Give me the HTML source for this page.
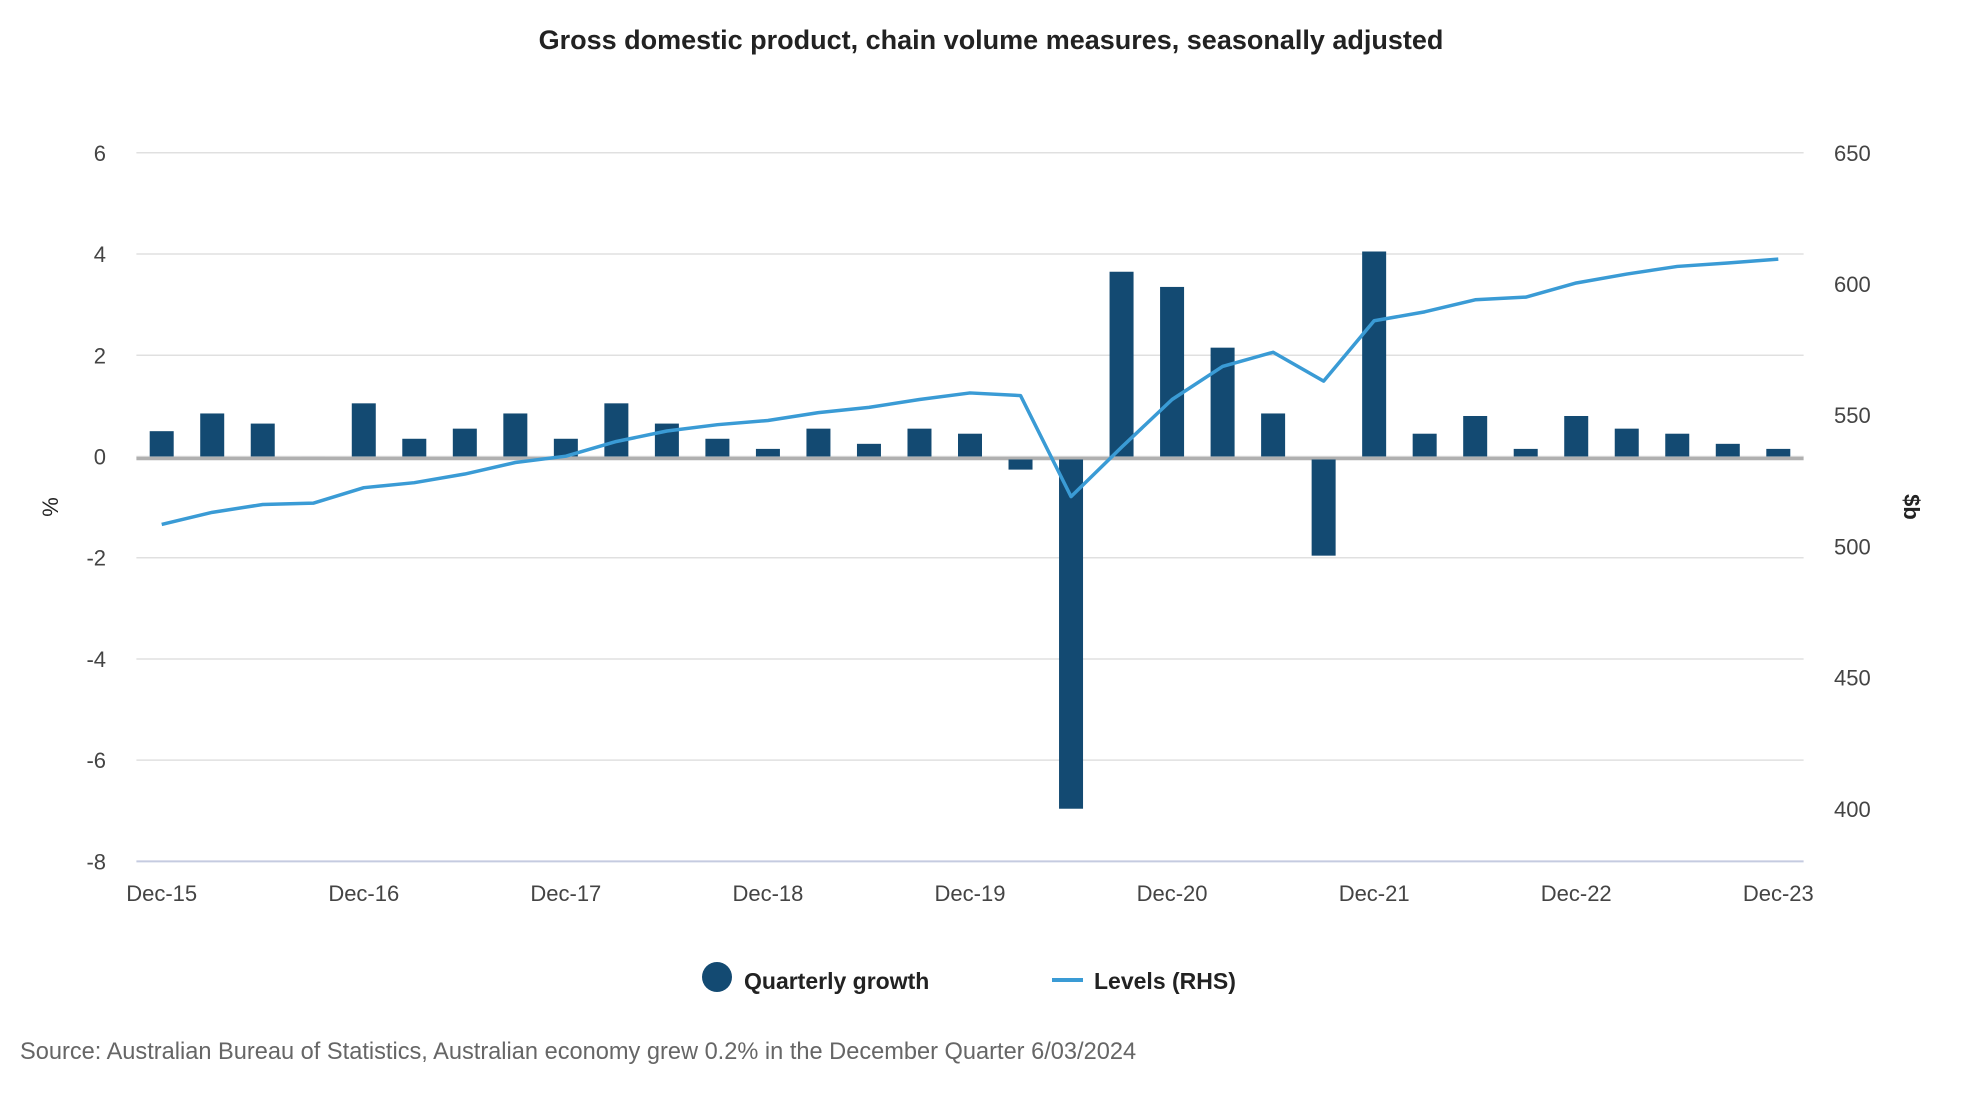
<!DOCTYPE html>
<html><head><meta charset="utf-8">
<style>
body{margin:0;background:#fff;}
svg{display:block;font-family:"Segoe UI","Liberation Sans",sans-serif;}
</style></head>
<body>
<svg id="chart" width="1980" height="1100" viewBox="0 0 1980 1100">
<text x="991" y="49" text-anchor="middle" font-size="27" font-weight="600" fill="#222">Gross domestic product, chain volume measures, seasonally adjusted</text>
<g id="grid"></g>
<g id="zero"></g>
<g id="bars"></g>
<g id="line"></g>
<g id="axes"></g>
<text transform="translate(58,507) rotate(-90)" text-anchor="middle" font-size="22" fill="#222">%</text>
<text transform="translate(1904,507) rotate(90)" text-anchor="middle" font-size="22" font-weight="600" fill="#222">$b</text>
<g>
<circle cx="717" cy="977" r="15" fill="#134a72"/>
<text x="744" y="989" font-size="23" font-weight="600" fill="#222">Quarterly growth</text>
<line x1="1052" y1="980" x2="1083" y2="980" stroke="#3a9bd5" stroke-width="4"/>
<text x="1094" y="989" font-size="23" font-weight="600" fill="#222">Levels (RHS)</text>
</g>
<text x="20" y="1059" font-size="23.6" fill="#666">Source: Australian Bureau of Statistics, Australian economy grew 0.2% in the December Quarter 6/03/2024</text>
</svg>
<script>
const categories=["Dec-15","Mar-16","Jun-16","Sep-16","Dec-16","Mar-17","Jun-17","Sep-17","Dec-17","Mar-18","Jun-18","Sep-18","Dec-18","Mar-19","Jun-19","Sep-19","Dec-19","Mar-20","Jun-20","Sep-20","Dec-20","Mar-21","Jun-21","Sep-21","Dec-21","Mar-22","Jun-22","Sep-22","Dec-22","Mar-23","Jun-23","Sep-23","Dec-23"];
const growth=[0.5,0.85,0.65,0,1.05,0.35,0.55,0.85,0.35,1.05,0.65,0.35,0.15,0.55,0.25,0.55,0.45,-0.2,-6.9,3.65,3.35,2.15,0.85,-1.9,4.05,0.45,0.8,0.15,0.8,0.55,0.45,0.25,0.15];
const levels=[508.4,513,516,516.5,522.4,524.3,527.6,532,534.4,540,544,546.4,548,551,553,556,558.5,557.5,519,537.8,556,568.6,574,563,586,589.4,594,595,600.4,603.8,606.7,608,609.5];
const leftTicks=[6,4,2,0,-2,-4,-6,-8];
const rightTicks=[650,600,550,500,450,400];
const xLabels=["Dec-15","Dec-16","Dec-17","Dec-18","Dec-19","Dec-20","Dec-21","Dec-22","Dec-23"];

const NS="http://www.w3.org/2000/svg";
const L=136.4,R=1803.6,T=152.8,B=861.4;
const yL=v=>T+(6-v)/14*(B-T);
const yR=v=>T+(650-v)/270*(B-T);
const x0=161.7,x1=1778.3;
const xS=i=>x0+i*(x1-x0)/(categories.length-1);
function mk(tag,attrs,parent){const e=document.createElementNS(NS,tag);for(const k in attrs)e.setAttribute(k,attrs[k]);document.getElementById(parent).appendChild(e);return e;}

leftTicks.forEach(v=>{
  const y=yL(v);
  if(v!==-8){const g=mk('line',{x1:L,x2:R,y1:y,y2:y,stroke:'#e0e0e0','stroke-width':1.5},'grid');
  
  }
  const t=mk('text',{x:106,y:y+8,'text-anchor':'end','font-size':22,fill:'#444'},'axes');
  t.textContent=v;
  
  
});
rightTicks.forEach(v=>{
  const t=mk('text',{x:1834,y:yR(v)+8,'font-size':22,fill:'#444'},'axes');
  t.textContent=v;
  
  
});
const ax=mk('line',{x1:L,x2:R,y1:B,y2:B,stroke:'#c5cbe0','stroke-width':2},'axes');


xLabels.forEach(lbl=>{
  const i=categories.indexOf(lbl);
  const t=mk('text',{x:xS(i),y:901,'text-anchor':'middle','font-size':22,fill:'#444'},'axes');
  t.textContent=lbl;
  
  
});
const zl=mk('line',{x1:L,x2:R,y1:yL(0)+2,y2:yL(0)+2,stroke:'#b0b0b0','stroke-width':3.5},'zero');


const bw=24;
growth.forEach((v,i)=>{
  const y0=yL(0),y=yL(v);
  const b=mk('rect',{x:xS(i)-bw/2,y:Math.min(y,y0+(v<0?3:0)),width:bw,height:Math.max(Math.abs(y-y0),0.01),fill:'#134a72'},'bars');
  
  
});
const p=mk('polyline',{points:levels.map((v,i)=>xS(i)+','+yR(v)).join(' '),fill:'none',stroke:'#3a9bd5','stroke-width':3.5,'stroke-linejoin':'round'},'line');


</script>
</body></html>
